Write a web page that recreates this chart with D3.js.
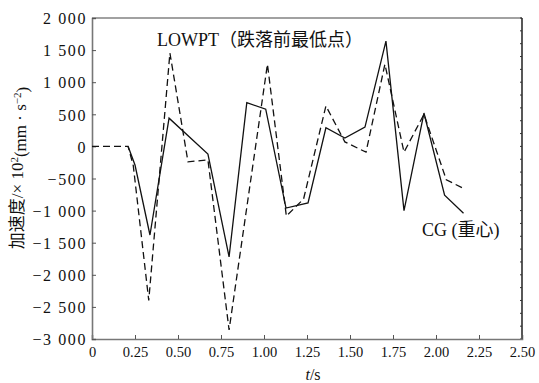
<!DOCTYPE html>
<html>
<head>
<meta charset="utf-8">
<script src="https://cdn.jsdelivr.net/npm/d3@7"></script>
<style>
  body { margin: 0; background: #fff; }
  text { font-family: "Liberation Serif", "Noto Sans CJK SC", serif; fill: #111; }
  .ylab text { font-size: 16px; letter-spacing: 1.6px; }
  .xlab text { font-size: 14.5px; }
</style>
</head>
<body>
<svg></svg>
<script>
// CG (重心) curve
let cgTime = [0.21, 0.25, 0.337, 0.448, 0.674, 0.797, 0.90, 1.01, 1.128, 1.256, 1.36, 1.47, 1.587, 1.709, 1.814, 1.93, 2.05, 2.16];
let cgAcc  = [0, -290, -1380, 440, -120, -1720, 680, 580, -960, -880, 290, 130, 300, 1640, -1000, 520, -760, -1040];

// LOWPT (跌落前最低点) curve
let lowTime = [0, 0.21, 0.24, 0.33, 0.453, 0.558, 0.674, 0.797, 1.02, 1.13, 1.23, 1.36, 1.47, 1.593, 1.703, 1.814, 1.93, 2.06, 2.157];
let lowAcc  = [0, 0, -300, -2400, 1455, -240, -210, -2860, 1280, -1085, -820, 630, 70, -90, 1280, -90, 500, -520, -650];

let xTicks = [0, 0.25, 0.5, 0.75, 1, 1.25, 1.5, 1.75, 2, 2.25, 2.5];
let yTicks = [2000, 1500, 1000, 500, 0, -500, -1000, -1500, -2000, -2500, -3000];

let width = 539;
let height = 383;
let padLeft = 92, padRight = 522, padTop = 18, padBottom = 339;

let svg = d3.select('svg')
    .attr('width', width)
    .attr('height', height);

let xScale = d3.scaleLinear().domain([0, 2.5]).range([padLeft, padRight]);
let yScale = d3.scaleLinear().domain([-3000, 2000]).range([padBottom, padTop]);

let locale = d3.formatLocale({decimal: '.', thousands: ' ', grouping: [3], currency: ['', ''], minus: '\u2212'});
let yFormat = locale.format(',d');

// frame: top and right
svg.append('line')
    .attr('x1', padLeft).attr('x2', padRight).attr('y1', padTop).attr('y2', padTop)
    .attr('stroke', '#444').attr('stroke-width', 1.2);
svg.append('line')
    .attr('x1', padRight).attr('x2', padRight).attr('y1', padTop).attr('y2', padBottom)
    .attr('stroke', '#111').attr('stroke-width', 1.4);

// small ticks on the right border
svg.selectAll('.rtick')
    .data(d3.range(-3000, 2001, 200))
    .enter()
    .append('line')
    .attr('class', 'rtick')
    .attr('x1', padRight - 2).attr('x2', padRight)
    .attr('y1', (d) => yScale(d)).attr('y2', (d) => yScale(d))
    .attr('stroke', '#333').attr('stroke-width', 1);

let xAxis = d3.axisBottom(xScale)
    .tickValues(xTicks)
    .tickSize(-4)
    .tickPadding(8)
    .tickFormat((d) => d === 0 ? '0' : d3.format('.2f')(d));
let gx = svg.append('g')
    .attr('class', 'xlab')
    .attr('transform', 'translate(0,' + padBottom + ')')
    .call(xAxis);

let yAxis = d3.axisLeft(yScale)
    .tickValues(yTicks)
    .tickSize(-4)
    .tickPadding(5)
    .tickFormat(yFormat);
let gy = svg.append('g')
    .attr('class', 'ylab')
    .attr('transform', 'translate(' + padLeft + ',0)')
    .call(yAxis);

[gx, gy].forEach((g) => {
    g.attr('font-family', null).attr('font-size', null);
    g.select('.domain').attr('stroke', '#777').attr('stroke-width', 1.6);
    g.selectAll('.tick line').attr('stroke', '#555').attr('stroke-width', 1);
    g.selectAll('.tick text').attr('fill', '#111');
});
gy.selectAll('.tick text').attr('dy', '0.36em');

let line = d3.line()
    .x((d) => xScale(d[0]))
    .y((d) => yScale(d[1]));

svg.append('path')
    .datum(lowTime.map((t, i) => [t, lowAcc[i]]))
    .attr('d', line)
    .attr('fill', 'none')
    .attr('stroke', '#111')
    .attr('stroke-width', 1.3)
    .attr('stroke-dasharray', '7,4');

svg.append('path')
    .datum(cgTime.map((t, i) => [t, cgAcc[i]]))
    .attr('d', line)
    .attr('fill', 'none')
    .attr('stroke', '#111')
    .attr('stroke-width', 1.3);

// annotations
svg.append('text')
    .attr('x', 157).attr('y', 46)
    .style('font-size', '18px')
    .text('LOWPT（跌落前最低点）');

svg.append('text')
    .attr('x', 422).attr('y', 236)
    .style('font-size', '18px')
    .text('CG (重心)');

// axis titles
let yTitle = svg.append('text')
    .attr('transform', 'translate(23,168) rotate(-90)')
    .attr('text-anchor', 'middle')
    .style('font-size', '17px');
yTitle.append('tspan').text('加速度/× 10');
yTitle.append('tspan').attr('dy', '-0.45em').style('font-size', '11px').text('2');
yTitle.append('tspan').attr('dy', '0.45em').text('(mm · s');
yTitle.append('tspan').attr('dy', '-0.45em').style('font-size', '11px').text('−2');
yTitle.append('tspan').attr('dy', '0.45em').text(')');

let xTitle = svg.append('text')
    .attr('x', 313).attr('y', 380)
    .attr('text-anchor', 'middle')
    .style('font-size', '16px');
xTitle.append('tspan').style('font-style', 'italic').text('t');
xTitle.append('tspan').text('/s');
</script>
</body>
</html>
